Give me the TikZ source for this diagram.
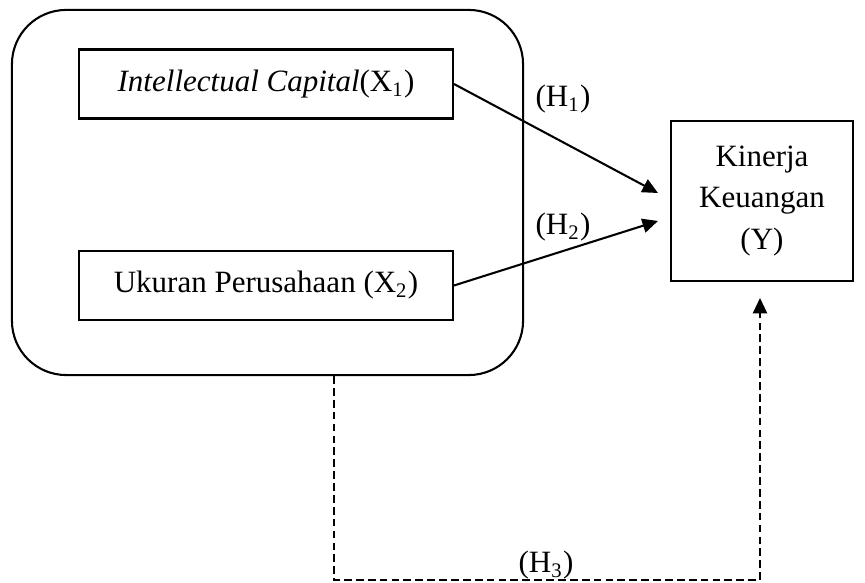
\documentclass[tikz,border=0pt]{standalone}
\usepackage{fontspec}
\setmainfont{Liberation Serif}
\usetikzlibrary{arrows.meta}
\tikzset{
  px/.style={x=0.387pt,y=-0.387pt},
  box/.style={draw,line width=0.8pt,inner sep=0pt,align=center,font=\fontsize{12}{16}\selectfont},
  lbl/.style={inner sep=0pt,font=\fontsize{12}{16}\selectfont},
  arr/.style={line width=0.8pt,-{Triangle[length=6pt,width=5.5pt]}},
  darr/.style={line width=0.8pt,dash pattern=on 3pt off 1.6pt,-{Triangle[length=6pt,width=5.5pt]}}
}
\begin{document}
\begin{tikzpicture}[px]
\useasboundingbox (0,0) rectangle (865,583);
\node[box,rounded corners=21pt,minimum width=197.8pt,minimum height=141.3pt] (G) at (267.5,192.5) {};
\node[box,minimum width=144.7pt,minimum height=26.7pt] (X1) at (266,84) {\textit{Intellectual Capital}(X\textsubscript{1})};
\node[box,minimum width=144.7pt,minimum height=26.7pt] (X2) at (266,285.5) {Ukuran Perusahaan (X\textsubscript{2})};
\node[box,minimum width=70.4pt,minimum height=61.9pt] (Y) at (762,201) {Kinerja\\Keuangan\\(Y)};
\coordinate (t1) at (658,193);
\coordinate (t2) at (658,221);
\coordinate (t3) at (760,298);
\coordinate (d1) at (334,580);
\coordinate (d2) at (760,580);
\draw[arr] (X1.east) -- (t1);
\draw[arr] (X2.east) -- (t2);
\draw[darr] (G.south -| d1) -- (d1) -- (d2) -- (t3);
\node[lbl] (h1) at (563,99) {(H\textsubscript{1})};
\node[lbl] (h2) at (563,227) {(H\textsubscript{2})};
\node[lbl] (h3) at (546,565) {(H\textsubscript{3})};
\end{tikzpicture}
\end{document}
